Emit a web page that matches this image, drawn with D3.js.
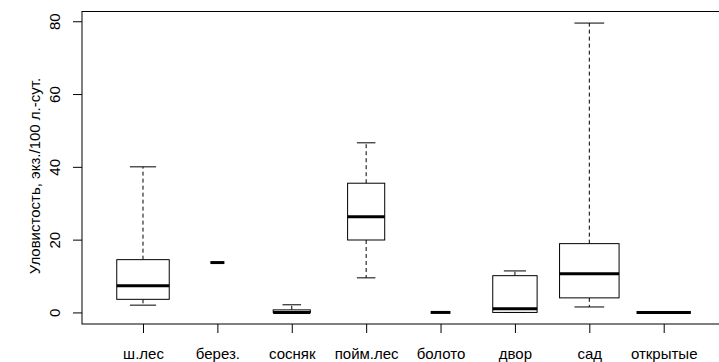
<!DOCTYPE html>
<html>
<head>
<meta charset="utf-8">
<script src="https://cdn.jsdelivr.net/npm/d3@7"></script>
<style>
  html, body { margin: 0; padding: 0; background: #fff; }
  svg { display: block; }
  text { font-family: "Liberation Sans", Arial, sans-serif; fill: #000; }
</style>
</head>
<body>
<svg id="chart" width="719" height="362"></svg>
<script>
// Habitat groups and their five-number summaries (catch per 100 trap-days)
const categories   = ["ш.лес", "берез.", "сосняк", "пойм.лес", "болото", "двор", "сад", "открытые"];
const sampleSize   = [14, 1, 7, 7, 2, 10, 18, 15];
const lowerWhisker = [2.0, 13.7, 0.0, 9.5, 0, 0.0, 1.5, 0];
const lowerQuart   = [3.6, 13.7, 0.0, 19.9, 0, 0.0, 4.0, 0];
const medians      = [7.3, 13.7, 0.0, 26.3, 0, 1.0, 10.6, 0];
const upperQuart   = [14.5, 13.7, 0.7, 35.5, 0, 10.1, 18.9, 0];
const upperWhisker = [40.0, 13.7, 2.1, 46.6, 0, 11.4, 79.5, 0];
const yTicks       = [0, 20, 40, 60, 80];
const yTitle       = "Уловистость, экз./100 л.-сут.";

const svg = d3.select("#chart");
const plot = { left: 82, right: 724.7, top: 11.5, bottom: 324 };
const fontSize = 15;

// Axis ranges padded by 4% like a base R plot region
const n = categories.length;
const xPad = n * 0.04;
const x = d3.scaleLinear()
  .domain([0.5 - xPad, n + 0.5 + xPad])
  .range([plot.left, plot.right]);

const yMin = d3.min(lowerWhisker), yMax = d3.max(upperWhisker);
const yPad = (yMax - yMin) * 0.04;
const y = d3.scaleLinear()
  .domain([yMin - yPad, yMax + yPad])
  .range([plot.bottom, plot.top]);

// Box widths scale with sqrt of the group size
const maxN = d3.max(sampleSize);
const halfW = i => 0.4 * Math.sqrt(sampleSize[i] / maxN);

const data = categories.map((c, i) => ({
  i, pos: i + 1, c,
  lo: lowerWhisker[i], q1: lowerQuart[i], med: medians[i], q3: upperQuart[i], hi: upperWhisker[i]
}));

const g = svg.append("g");

const boxes = g.selectAll("g.box").data(data).join("g").attr("class", "box");

// dashed whiskers
boxes.append("line")
  .attr("x1", d => x(d.pos)).attr("x2", d => x(d.pos))
  .attr("y1", d => y(d.q3)).attr("y2", d => y(d.hi))
  .attr("stroke", "#000").attr("stroke-width", 1).attr("stroke-dasharray", "4,3");
boxes.append("line")
  .attr("x1", d => x(d.pos)).attr("x2", d => x(d.pos))
  .attr("y1", d => y(d.q1)).attr("y2", d => y(d.lo))
  .attr("stroke", "#000").attr("stroke-width", 1).attr("stroke-dasharray", "4,3");

// staples at whisker ends
["hi", "lo"].forEach(k => {
  boxes.append("line")
    .attr("x1", d => x(d.pos - halfW(d.i) / 2)).attr("x2", d => x(d.pos + halfW(d.i) / 2))
    .attr("y1", d => y(d[k])).attr("y2", d => y(d[k]))
    .attr("stroke", "#000").attr("stroke-width", 1);
});

// boxes
boxes.append("rect")
  .attr("x", d => x(d.pos - halfW(d.i)))
  .attr("width", d => x(d.pos + halfW(d.i)) - x(d.pos - halfW(d.i)))
  .attr("y", d => y(d.q3))
  .attr("height", d => y(d.q1) - y(d.q3))
  .attr("fill", "#fff").attr("stroke", "#000").attr("stroke-width", 1);

// medians
boxes.append("line")
  .attr("x1", d => x(d.pos - halfW(d.i))).attr("x2", d => x(d.pos + halfW(d.i)))
  .attr("y1", d => y(d.med)).attr("y2", d => y(d.med))
  .attr("stroke", "#000").attr("stroke-width", 3);

// plot frame
svg.append("rect")
  .attr("x", plot.left).attr("y", plot.top)
  .attr("width", plot.right - plot.left).attr("height", plot.bottom - plot.top)
  .attr("fill", "none").attr("stroke", "#000").attr("stroke-width", 1);

// y axis with labels parallel to the axis
const yAxis = svg.append("g")
  .attr("transform", `translate(${plot.left},0)`)
  .call(d3.axisLeft(y).tickValues(yTicks).tickSize(9).tickFormat(d3.format("d")));
yAxis.select(".domain").remove();
yAxis.selectAll(".tick line").attr("stroke", "#000");
yAxis.selectAll(".tick text")
  .attr("x", 0).attr("dy", null)
  .attr("transform", "translate(-22,0) rotate(-90)")
  .attr("text-anchor", "middle")
  .style("font-family", "'Liberation Sans', Arial, sans-serif")
  .style("font-size", fontSize + "px")
  .attr("fill", "#000");

// x axis with group names
const xAxis = svg.append("g")
  .attr("transform", `translate(0,${plot.bottom})`)
  .call(d3.axisBottom(x).tickValues(data.map(d => d.pos)).tickSize(9)
    .tickFormat(v => categories[v - 1]));
xAxis.select(".domain").remove();
xAxis.selectAll(".tick line").attr("stroke", "#000");
xAxis.selectAll(".tick text")
  .attr("y", 35).attr("dy", null)
  .style("font-family", "'Liberation Sans', Arial, sans-serif")
  .style("font-size", fontSize + "px")
  .attr("fill", "#000");

// y axis title
svg.append("text")
  .attr("transform", `translate(40,176) rotate(-90)`)
  .attr("text-anchor", "middle")
  .style("font-size", fontSize + "px")
  .text(yTitle);
</script>
</body>
</html>
